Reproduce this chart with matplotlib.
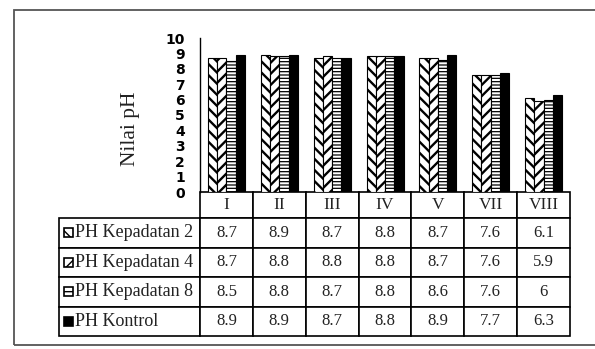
import matplotlib.pyplot as plt
import numpy as np
from matplotlib.patches import Rectangle
from matplotlib.table import Table

categories = ['I', 'II', 'III', 'IV', 'V', 'VII', 'VIII']
series_names = ['PH Kepadatan 2', 'PH Kepadatan 4', 'PH Kepadatan 8', 'PH Kontrol']
ph_kepadatan_2 = [8.7, 8.9, 8.7, 8.8, 8.7, 7.6, 6.1]
ph_kepadatan_4 = [8.7, 8.8, 8.8, 8.8, 8.7, 7.6, 5.9]
ph_kepadatan_8 = [8.5, 8.8, 8.7, 8.8, 8.6, 7.6, 6.0]
ph_kontrol = [8.9, 8.9, 8.7, 8.8, 8.9, 7.7, 6.3]
y_ticks = list(range(0, 11))

series = [ph_kepadatan_2, ph_kepadatan_4, ph_kepadatan_8, ph_kontrol]
# fill pattern per series: (hatch, facecolor, hatch line width)
styles = [('\\\\\\', 'white', 1.7),
          ('///', 'white', 1.7),
          ('-----', 'white', 0.9),
          ('', 'black', 1.0)]

SERIF = 'Liberation Serif'
W, H = 595, 349

fig = plt.figure(figsize=(W / 100, H / 100), dpi=100)

# plot area in pixel units: x 200..570, y 38..192
ax_l, ax_r, ax_t, ax_b = 200, 570, 38, 192
ax_w, ax_h = ax_r - ax_l, ax_b - ax_t
ax = fig.add_axes([ax_l / W, 1 - ax_b / H, ax_w / W, ax_h / H])

x = np.arange(len(categories))
bar_w = 0.175
for i, (vals, (hatch, fc, hlw)) in enumerate(zip(series, styles)):
    plt.rcParams['hatch.linewidth'] = hlw
    ax.bar(x + (i - 1.5) * bar_w, vals, bar_w, color=fc, edgecolor='black',
           hatch=hatch, linewidth=0.8)

ax.set_xlim(-0.5, len(categories) - 0.5)
ax.set_ylim(0, 10)
ax.set_xticks([])
ax.set_yticks(y_ticks)
ax.set_yticklabels([str(t) for t in y_ticks], fontsize=10, fontweight='bold',
                   family='DejaVu Sans')
ax.tick_params(axis='y', length=0, pad=11)
for side in ('top', 'right', 'bottom'):
    ax.spines[side].set_visible(False)
ax.spines['left'].set_linewidth(1.0)

# data table under the bars: label column + one column per category
tbl_l, tbl_b = 59, 336
head_h, row_h = 26, 29.5
lab_w, col_w = ax_l - tbl_l, ax_w / len(categories)
tbl = Table(ax, bbox=[(tbl_l - ax_l) / ax_w, -(tbl_b - ax_b) / ax_h,
                      (ax_r - tbl_l) / ax_w, (tbl_b - ax_b) / ax_h])
tbl.auto_set_font_size(False)

corner = tbl.add_cell(0, 0, lab_w, head_h, text='')
corner.visible_edges = 'open'
for j, cat in enumerate(categories, start=1):
    c = tbl.add_cell(0, j, col_w, head_h, text=cat, loc='center')
    c.get_text().set_fontsize(12.5)
for i, (name, vals) in enumerate(zip(series_names, series), start=1):
    c = tbl.add_cell(i, 0, lab_w, row_h, text=name, loc='left')
    c.PAD = 0.115
    c.get_text().set_fontsize(13)
    for j, v in enumerate(vals, start=1):
        c = tbl.add_cell(i, j, col_w, row_h, text=f'{v:g}', loc='center')
        c.get_text().set_fontsize(12)
for cell in tbl.get_celld().values():
    cell.set_linewidth(1.2)
    cell.get_text().set_family(SERIF)
    cell.get_text().set_color('#222222')
ax.add_table(tbl)

# legend keys inside the row label cells
key = 9
for i, (hatch, fc, hlw) in enumerate(styles):
    plt.rcParams['hatch.linewidth'] = 1.0
    cy = ax_b + head_h + row_h * i + row_h / 2
    ax.add_patch(Rectangle(((64 - ax_l) / ax_w, -(cy + key / 2 - ax_b) / ax_h),
                           key / ax_w, key / ax_h, transform=ax.transAxes,
                           facecolor=fc, edgecolor='black', linewidth=1.2,
                           hatch=hatch.replace('-----', '---'), clip_on=False))

fig.text(130 / W, 1 - 129 / H, 'Nilai pH', rotation=90, ha='center', va='center',
         fontsize=15.5, family=SERIF, color='#222222')

# outer border
fig.add_artist(Rectangle((14 / W, 1 - 345 / H), 584 / W, 335 / H,
                         transform=fig.transFigure, fill=False,
                         edgecolor='#555555', linewidth=1.3))

fig.savefig('out.png', dpi=100)
